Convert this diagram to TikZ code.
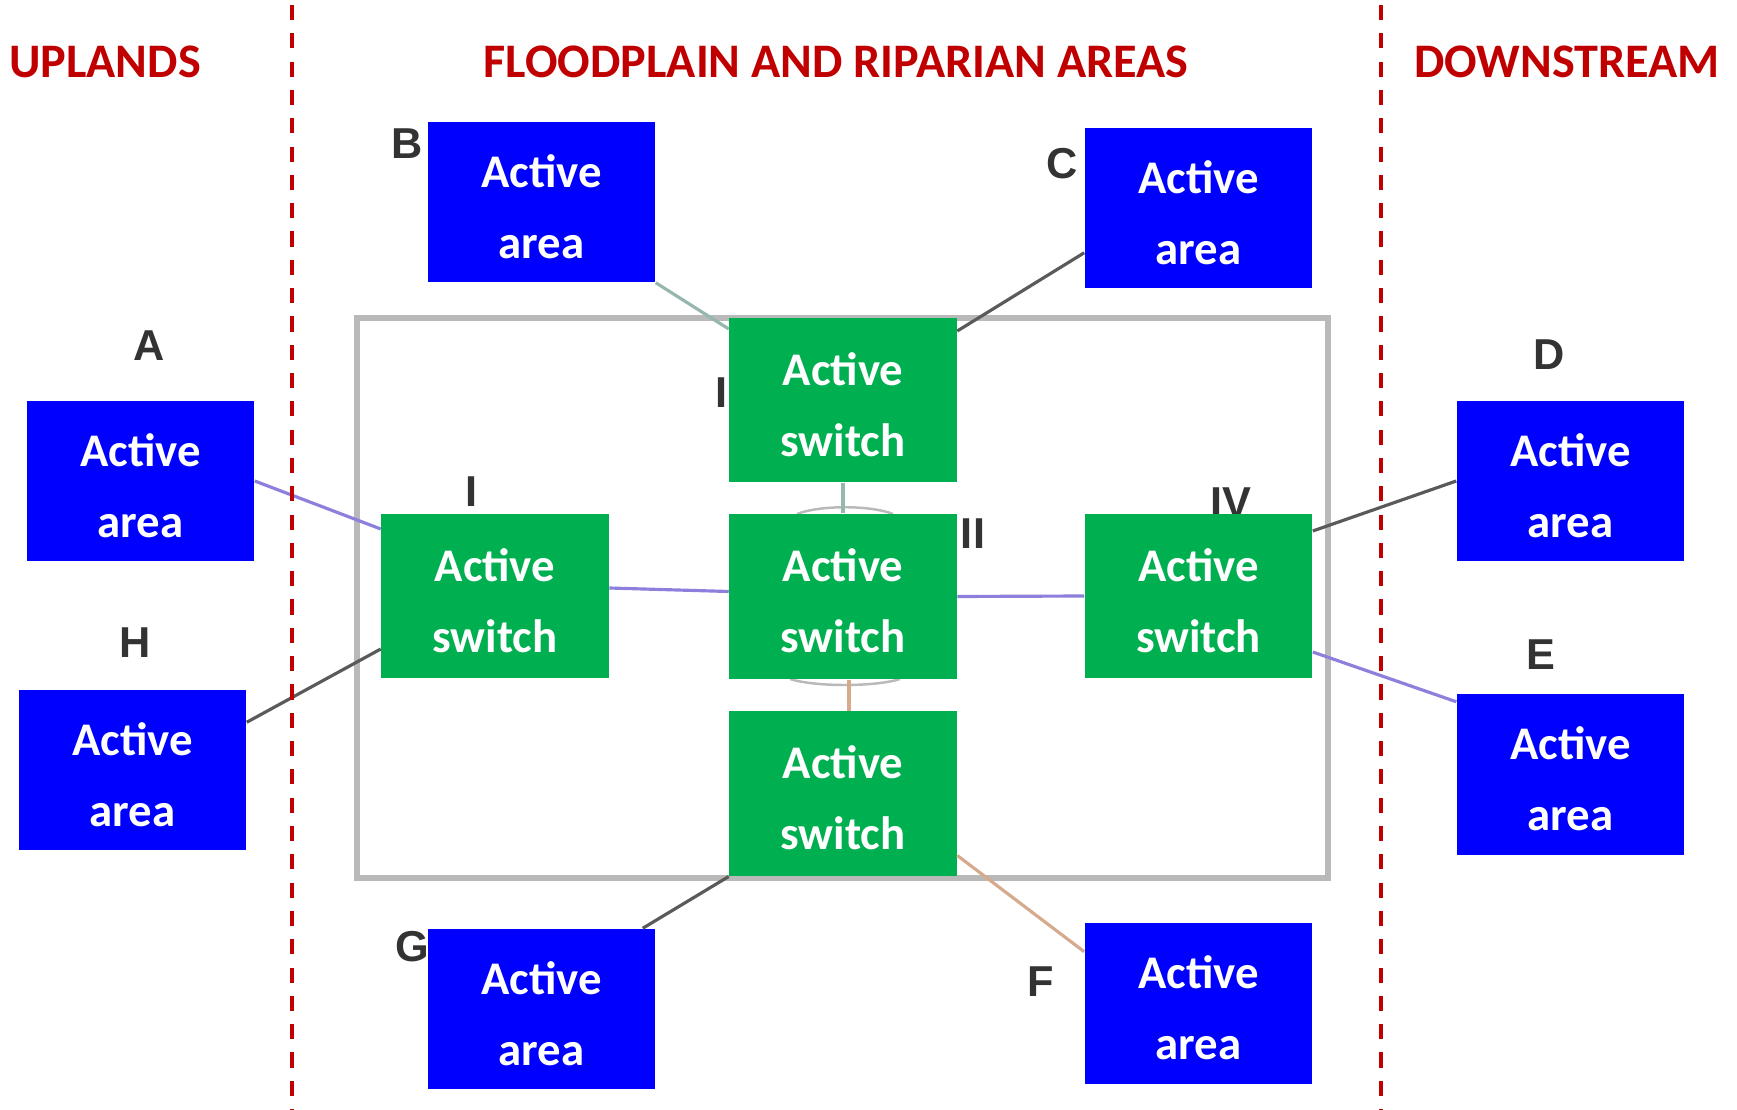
\documentclass[tikz,border=0pt]{standalone}
\usepackage{fontspec}
\setmainfont{Carlito}
\newfontfamily\lblfont{Liberation Sans}
\usepackage{tikz}
\usetikzlibrary{calc}
\definecolor{zonered}{RGB}{192,0,0}
\definecolor{areablue}{RGB}{0,0,255}
\definecolor{swgreen}{RGB}{0,176,80}
\definecolor{framegray}{RGB}{185,185,185}
\definecolor{linkpurple}{RGB}{140,128,220}
\definecolor{linkdark}{RGB}{90,90,90}
\definecolor{linkteal}{RGB}{150,182,176}
\definecolor{linktan}{RGB}{214,170,140}
\newcommand{\boxtext}[2]{\rule{0pt}{12pt}#1\\#2}

\begin{document}
\begin{tikzpicture}[x=0.01cm,y=-0.01cm,
  areabox/.style={fill=areablue,text=white,align=center,inner sep=0pt,
    minimum width=2.27cm,minimum height=1.6cm,
    font=\bfseries\fontsize{13.3}{20.2}\selectfont},
  swbox/.style={areabox,fill=swgreen,minimum height=1.645cm},
  zone/.style={text=zonered,anchor=base,font=\bfseries\fontsize{13.7}{16}\selectfont},
  lbl/.style={text=black!80,font=\lblfont\bfseries\fontsize{12.3}{14}\selectfont},
  link/.style={line width=0.9pt}]
\useasboundingbox (0,0) rectangle (1737,1110);

% zones
\node[zone] (up) at (105,78) {UPLANDS};
\node[zone] (fp) at (836,78) {FLOODPLAIN AND RIPARIAN AREAS};
\node[zone] (dn) at (1567,78) {DOWNSTREAM};

% floodplain frame
\draw[framegray,line width=1.5pt] (357,318) rectangle (1328,878);

\path (843,400) coordinate (pT) (843,596.5) coordinate (pC) (495,596) coordinate (pI)
  (1198.5,596) coordinate (pIV) (843,793.5) coordinate (pB);

% labels (partly hidden by the boxes)
\node[lbl] (lA) at (149,346) {A};
\node[lbl] (lB) at (407,144) {B};
\node[lbl] (lC) at (1062,164) {C};
\node[lbl] (lD) at (1549,355) {D};
\node[lbl] (lE) at (1541,655) {E};
\node[lbl] (lF) at (1041,982) {F};
\node[lbl] (lG) at (412,947) {G};
\node[lbl] (lH) at (135,643) {H};
\node[lbl] (lI) at (472,492) {I};
\node[lbl] (lII) at (973,534) {II};
\node[lbl] (lT) at (721,393) {I};
\node[lbl] (lIV) at (1231,503) {IV};

% faint ring round the middle switch
\draw[framegray,line width=0.7pt] (797,514) .. controls (820,505) and (870,505) .. (893,514);
\draw[framegray,line width=0.7pt] (790,679) .. controls (815,687) and (875,687) .. (900,679);

\node[swbox] (swT) at (pT) {\boxtext{Active}{switch}};
\node[swbox] (swC) at (pC) {\boxtext{Active}{switch}};
\node[swbox] (swI) at (pI) {\boxtext{Active}{switch}};
\node[swbox] (swIV) at (pIV) {\boxtext{Active}{switch}};
\node[swbox] (swB) at (pB) {\boxtext{Active}{switch}};

\node[areabox] (aA) at (140.5,481) {\boxtext{Active}{area}};
\node[areabox] (aH) at (132.5,770) {\boxtext{Active}{area}};
\node[areabox] (aB) at (541.5,202) {\boxtext{Active}{area}};
\node[areabox] (aC) at (1198.5,208) {\boxtext{Active}{area}};
\node[areabox] (aD) at (1570.5,481) {\boxtext{Active}{area}};
\node[areabox] (aE) at (1570.5,774.5) {\boxtext{Active}{area}};
\node[areabox] (aG) at (541.5,1009) {\boxtext{Active}{area}};
\node[areabox] (aF) at (1198.5,1003.5) {\boxtext{Active}{area}};

% links
\draw[link,linkpurple] (aA.east) -- ($(swI.north west)+(0,16)$);
\draw[link,linkdark] ($(aH.north east)+(0,33)$) -- ($(swI.south west)+(0,-30)$);
\draw[link,linkteal] (aB.south east) -- ($(swT.north west)+(0,12)$);
\draw[link,linkdark] ($(aC.south west)+(0,-36)$) -- ($(swT.north east)+(0,14)$);
\draw[link,linkteal] (swT.south) -- (swC.north);
\draw[link,linkpurple] ($(swI.east)+(0,-8)$) -- ($(swC.west)+(0,-5)$);
\draw[link,linkpurple] (swC.east) -- (swIV.west);
\draw[link,linktan] ($(swC.south)+(6,0)$) -- ($(swB.north)+(6,0)$);
\draw[link,linkdark] ($(swIV.north east)+(0,18)$) -- (aD.west);
\draw[link,linkpurple] ($(swIV.south east)+(0,-27)$) -- ($(aE.north west)+(0,8)$);
\draw[link,linkdark] (swB.south west) -- ($(aG.north east)+(-13,0)$);
\draw[link,linktan] ($(swB.south east)+(0,-21)$) -- ($(aF.north west)+(0,29)$);

% zone borders
\foreach \x in {292,1381}
  \draw[zonered,line width=1.1pt,dash pattern=on 4.3pt off 3.75pt] (\x,5) -- (\x,1110);
\end{tikzpicture}
\end{document}
